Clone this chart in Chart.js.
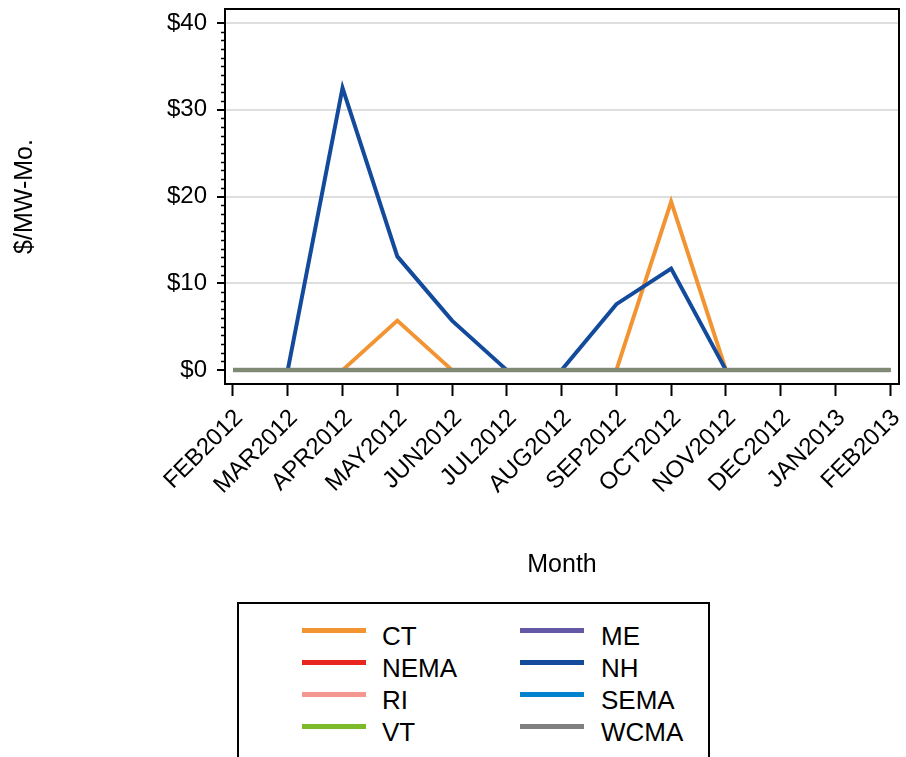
<!DOCTYPE html>
<html>
<head>
<meta charset="utf-8">
<script src="https://cdn.jsdelivr.net/npm/chart.js@4.4.1/dist/chart.umd.min.js"></script>
<style>
    body { margin: 0; background: #fff; width: 906px; height: 757px; overflow: hidden; position: relative;
           font-family: Arial, "Liberation Sans", sans-serif; }
    #grafica { position: absolute; left: 0; top: 0; }
    #leyenda { position: absolute; left: 237px; top: 602px; width: 469px; height: 200px; border: 2px solid #000; }
    .muestra { position: absolute; width: 64px; height: 5px; }
    .texto { position: absolute; font-size: 26px; line-height: 26px; color: #000; white-space: nowrap; }
</style>
</head>
<body>
<canvas id="grafica" width="906" height="600"></canvas>
<div id="leyenda"></div>
<script>
// Datos
const meses = ['FEB2012', 'MAR2012', 'APR2012', 'MAY2012', 'JUN2012', 'JUL2012', 'AUG2012',
               'SEP2012', 'OCT2012', 'NOV2012', 'DEC2012', 'JAN2013', 'FEB2013'];
const ticksY = [0, 10, 20, 30, 40];

const series = ['CT', 'ME', 'NEMA', 'NH', 'RI', 'SEMA', 'VT', 'WCMA'];
const colores = ['#f39433', '#6459a6', '#e8261f', '#134a9c', '#f4978e', '#0083cc', '#7cba2a', '#808080'];

const ct   = [0, 0, 0, 5.7, 0, 0, 0, 0, 19.4, 0, 0, 0, 0];
const me   = [0, 0, 0, 0, 0, 0, 0, 0, 0, 0, 0, 0, 0];
const nema = [0, 0, 0, 0, 0, 0, 0, 0, 0, 0, 0, 0, 0];
const nh   = [0, 0, 32.5, 13.1, 5.7, 0, 0, 7.6, 11.7, 0, 0, 0, 0];
const ri   = [0, 0, 0, 0, 0, 0, 0, 0, 0, 0, 0, 0, 0];
const sema = [0, 0, 0, 0, 0, 0, 0, 0, 0, 0, 0, 0, 0];
const vt   = [0, 0, 0, 0, 0, 0, 0, 0, 0, 0, 0, 0, 0];
const wcma = [0, 0, 0, 0, 0, 0, 0, 0, 0, 0, 0, 0, 0];

const valores = [ct, me, nema, nh, ri, sema, vt, wcma];

Chart.defaults.font.family = 'Arial, "Liberation Sans", sans-serif';
Chart.defaults.color = '#000';

// Marco y ticks menores del eje Y
const marco = {
    id: 'marco',
    afterDraw(chart) {
        const { ctx, chartArea: a, scales: { y } } = chart;
        ctx.save();
        ctx.strokeStyle = '#000';
        ctx.lineWidth = 1.5;
        for (let v = 1; v < 40; v++) {
            if (v % 10 === 0) continue;
            const py = Math.round(y.getPixelForValue(v)) + 0.5;
            ctx.beginPath();
            ctx.moveTo(a.left - 4, py);
            ctx.lineTo(a.left, py);
            ctx.stroke();
        }
        ctx.lineWidth = 2;
        ctx.strokeRect(a.left, a.top, a.right - a.left, a.bottom - a.top);
        ctx.restore();
    }
};

const datasets = series.map((s, i) => ({
    label: s,
    data: valores[i].map((v, k) => ({ x: k, y: v })),
    borderColor: s === 'WCMA' ? 'rgba(128,128,128,0.85)' : colores[i],
    backgroundColor: colores[i],
    borderWidth: s === 'WCMA' ? 4.5 : 4,
    pointRadius: 0,
    tension: 0,
    fill: false,
    order: series.length - i
}));

const chart = new Chart(document.getElementById('grafica'), {
    type: 'line',
    data: { datasets: datasets },
    options: {
        responsive: false,
        animation: false,
        devicePixelRatio: 1,
        layout: { padding: { top: 9, right: 7, bottom: 20, left: 0 } },
        plugins: { legend: { display: false }, tooltip: { enabled: false } },
        scales: {
            x: {
                type: 'linear',
                min: -0.146,
                max: 12.16,
                bounds: 'data',
                afterBuildTicks: s => { s.ticks = meses.map((m, i) => ({ value: i })); },
                ticks: {
                    autoSkip: false,
                    minRotation: 45,
                    maxRotation: 45,
                    padding: 8,
                    labelOffset: 6,
                    font: { size: 24 },
                    callback: v => meses[v] || ''
                },
                grid: { drawOnChartArea: false, tickLength: 12, tickWidth: 2, tickColor: '#000' },
                border: { color: '#000', width: 2 },
                title: { display: true, text: 'Month', font: { size: 25 }, padding: { top: 0, bottom: 0 } },
                afterFit: s => { s.height = 196; s.paddingLeft = 0; s.paddingRight = 0; }
            },
            y: {
                min: -1.6,
                max: 41.6,
                bounds: 'data',
                afterBuildTicks: s => { s.ticks = ticksY.map(v => ({ value: v })); },
                ticks: { padding: 10, font: { size: 24 }, callback: v => '$' + v },
                grid: {
                    color: c => (c.tick && c.tick.value > 0) ? '#dedede' : 'rgba(0,0,0,0)',
                    lineWidth: 2,
                    tickLength: 8,
                    tickWidth: 2,
                    tickColor: '#000'
                },
                border: { color: '#000', width: 2 },
                title: { display: true, text: '$/MW-Mo.', font: { size: 25 }, padding: { top: 10, bottom: 0 } },
                afterFit: s => { s.width = 225; s.paddingTop = 0; s.paddingBottom = 0; }
            }
        }
    },
    plugins: [marco]
});

// Leyenda en dos columnas
const leyenda = document.getElementById('leyenda');
chart.data.datasets.forEach((d, i) => {
    const fila = Math.floor(i / 2);
    const col = i % 2;
    const m = document.createElement('div');
    m.className = 'muestra';
    m.style.background = colores[i];
    m.style.left = (col === 0 ? 63 : 281) + 'px';
    m.style.top = (24 + fila * 32) + 'px';
    const t = document.createElement('div');
    t.className = 'texto';
    t.textContent = d.label;
    t.style.left = (col === 0 ? 143 : 362) + 'px';
    t.style.top = (19 + fila * 32) + 'px';
    leyenda.appendChild(m);
    leyenda.appendChild(t);
});
</script>
</body>
</html>
